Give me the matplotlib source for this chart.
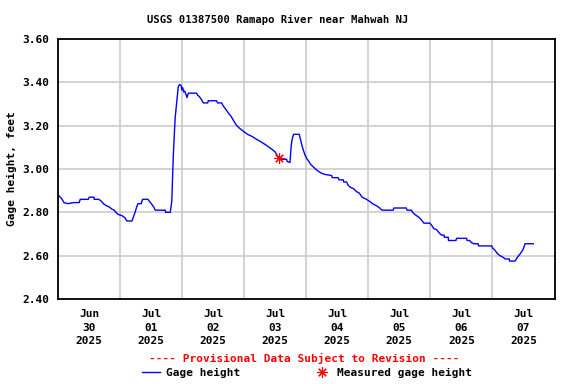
import numpy as np
import pandas as pd
import matplotlib
matplotlib.use("Agg")
import matplotlib.pyplot as plt
from matplotlib.lines import Line2D

plt.rcParams['font.family'] = ['DejaVu Sans Mono']
plt.rcParams['font.weight'] = 'bold'

# gage height, hours since 2025-06-30 00:00 and feet
hours = [
    0.0, 0.9, 1.6, 2.3, 3.9, 6.1, 8.2, 8.6, 11.7, 12.1, 13.9, 14.0, 15.8, 16.9,
    17.5, 18.8, 19.8, 20.8, 21.7, 22.4, 23.3, 24.7, 25.9, 26.6, 28.6, 29.2,
    29.8, 30.3, 30.9, 32.2, 32.7, 34.8, 35.4, 36.1, 37.0, 37.6, 41.5, 41.6, 43.4,
    44.0, 44.6, 45.3, 46.0, 46.5, 47.0, 47.6, 47.9, 48.2, 48.6, 49.0, 49.6,
    49.9, 50.4, 53.6, 54.0, 54.6, 55.5, 56.2, 57.9, 58.1, 61.3, 61.7, 63.3,
    63.7, 64.3, 65.2, 65.8, 67.1, 67.8, 68.8, 70.0, 71.6, 73.3, 75.1, 76.8,
    78.4, 80.0, 81.3, 82.6, 83.9, 84.9, 86.5, 88.4, 88.6, 89.7,
    90.2, 90.6, 91.1, 93.3, 93.8, 94.3, 94.8, 95.5, 96.1, 97.0, 97.8, 98.7,
    99.6, 100.6, 102.0, 103.2, 105.8, 106.1, 108.3, 108.7, 110.3, 110.5, 111.6,
    112.2, 113.1, 114.2, 115.5, 116.4, 117.6, 119.3, 120.6, 121.6, 123.2,
    124.4, 125.3, 129.6, 129.9, 134.7, 135.0, 136.7, 137.1, 138.0, 139.2,
    140.2, 141.5, 143.8, 144.5, 145.3, 146.4, 147.4, 148.3, 149.3, 149.4,
    150.9, 151.0, 153.9, 154.1, 158.0, 158.2, 159.2, 159.9, 160.8, 162.5,
    162.6, 167.7, 168.1, 169.0, 169.9, 170.9, 171.8, 172.9, 174.5, 174.6,
    176.7, 177.0, 177.8, 178.5, 179.1, 179.7, 180.2, 180.6, 183.8,
]
gage = [
    2.88, 2.87, 2.86, 2.845, 2.84, 2.845, 2.845, 2.86, 2.86, 2.87, 2.87, 2.86, 2.86, 2.85,
    2.84, 2.83, 2.825, 2.815, 2.81, 2.80, 2.79, 2.785, 2.775, 2.76, 2.76, 2.78,
    2.80, 2.82, 2.84, 2.84, 2.86, 2.86, 2.85, 2.84, 2.825, 2.81, 2.81, 2.80, 2.80,
    2.85, 3.065, 3.235, 3.32, 3.38, 3.39, 3.385, 3.365, 3.375, 3.355, 3.36, 3.34,
    3.33, 3.35, 3.35, 3.34, 3.335, 3.32, 3.305, 3.305, 3.315, 3.315, 3.305, 3.305,
    3.295, 3.285, 3.27, 3.26, 3.24, 3.225, 3.205, 3.19, 3.175, 3.16, 3.15, 3.137,
    3.126, 3.114, 3.103, 3.092, 3.08, 3.06, 3.045, 3.045, 3.035, 3.03,
    3.11, 3.14, 3.16, 3.16, 3.135, 3.11, 3.09, 3.065, 3.05, 3.035, 3.02, 3.01,
    3.00, 2.99, 2.98, 2.975, 2.97, 2.96, 2.96, 2.95, 2.95, 2.94, 2.94,
    2.925, 2.915, 2.91, 2.895, 2.89, 2.87, 2.86, 2.85, 2.84, 2.83,
    2.82, 2.81, 2.81, 2.82, 2.82, 2.81, 2.81, 2.80, 2.79,
    2.78, 2.77, 2.75, 2.75, 2.74, 2.725, 2.72, 2.705, 2.695, 2.695, 2.685,
    2.685, 2.67, 2.67, 2.68, 2.68, 2.67, 2.67, 2.66, 2.655, 2.655,
    2.645, 2.645, 2.635, 2.625, 2.61, 2.60, 2.595, 2.585, 2.585, 2.575,
    2.575, 2.58, 2.595, 2.605, 2.615, 2.625, 2.64, 2.655, 2.655,
]

# field measurement
meas_hours = [85.5]
meas_gage = [3.05]

start = pd.Timestamp('2025-06-30 00:00')
days = pd.date_range('2025-06-30', '2025-07-08', freq='D')
day_labels = [d.strftime('%b\n%d\n%Y') for d in days[:-1]]
yticks = [2.40, 2.60, 2.80, 3.00, 3.20, 3.40, 3.60]

t = start + pd.to_timedelta(hours, unit='h')
tm = start + pd.to_timedelta(meas_hours, unit='h')

fig = plt.figure(figsize=(5.76, 3.84), dpi=100)
ax = fig.add_axes([58 / 576, 1 - 299 / 384, (554.5 - 58) / 576, (299 - 39) / 384])

ax.plot(t, gage, color='#0000ff', lw=1.0, zorder=3)
ax.plot(tm, meas_gage, ls='none', marker=(8, 2, 0), ms=7.5, mew=0.8,
        color='#ff0000', zorder=4)

ax.set_xlim(days[0], days[-1])
ax.set_ylim(2.40, 3.60)

# labels at noon, grid at midnight
ax.set_xticks(days[:-1] + pd.Timedelta(hours=12))
ax.set_xticklabels(day_labels, fontsize=8, fontweight='bold', linespacing=1.4)
ax.set_xticks(days, minor=True)
ax.set_yticks(yticks)
ax.set_yticklabels([f'{v:.2f}' for v in yticks], fontsize=8, fontweight='bold')
ax.tick_params(axis='both', which='both', length=0)
ax.tick_params(axis='x', pad=7.5)
ax.tick_params(axis='y', pad=6)
ax.grid(which='minor', axis='x', color='#c8c8c8', lw=1.1)
ax.grid(which='major', axis='y', color='#c8c8c8', lw=1.1)
for s in ax.spines.values():
    s.set_linewidth(1.3)
    s.set_zorder(5)

ax.set_ylabel('Gage height, feet', fontsize=8, fontweight='bold', labelpad=4)
fig.text(278 / 576, 1 - 20 / 384, 'USGS 01387500 Ramapo River near Mahwah NJ',
         ha='center', va='center', fontsize=7.6, fontweight='bold')
fig.text(304 / 576, 1 - 358 / 384, '---- Provisional Data Subject to Revision ----',
         ha='center', va='center', fontsize=8, fontweight='bold', color='#ff0000')

handles = [Line2D([], [], color='#0000ff', lw=1.0),
           Line2D([], [], ls='none', marker=(8, 2, 0), ms=7.5, mew=0.8, color='#ff0000')]
fig.legend(handles, ['Gage height', 'Measured gage height'], loc='center',
           bbox_to_anchor=(307 / 576, 1 - 373 / 384), ncol=2, frameon=False,
           fontsize=8, handlelength=1.6, handletextpad=0.55, columnspacing=6.5,
           borderpad=0, borderaxespad=0)

fig.savefig('out.png', dpi=100)
